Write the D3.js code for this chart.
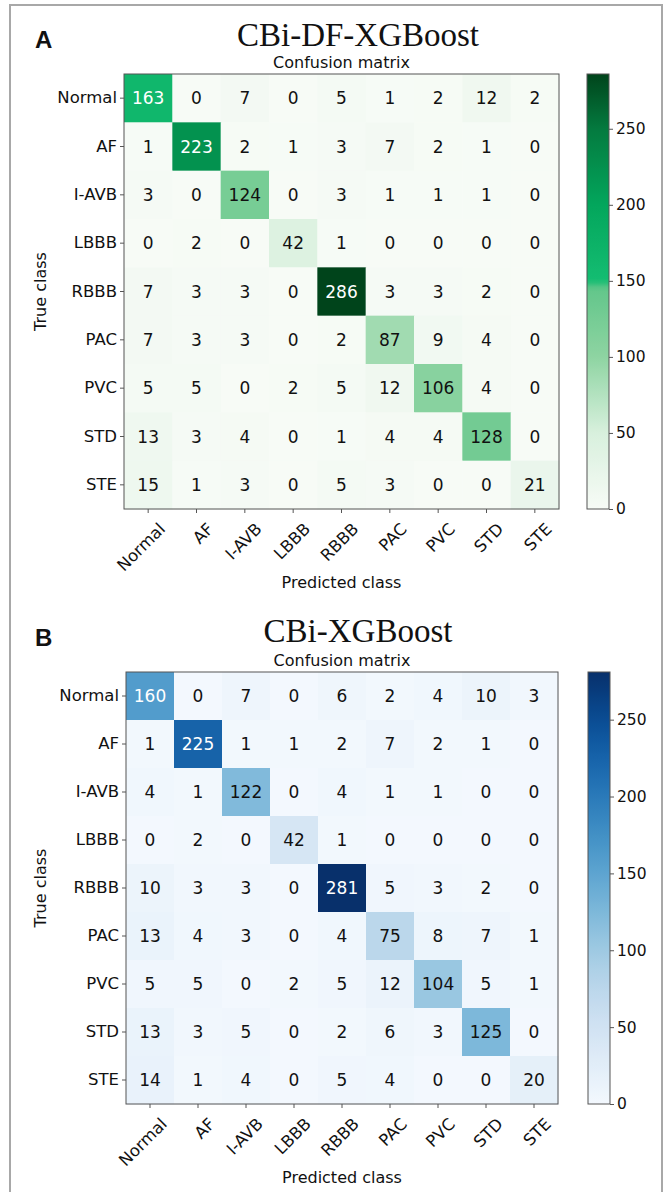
<!DOCTYPE html>
<html><head><meta charset="utf-8">
<script src="https://cdn.jsdelivr.net/npm/d3@7"></script>
<style>
html,body{margin:0;padding:0;background:#fff;}
svg{display:block;}
</style></head>
<body>
<svg id="chart" width="665" height="1192"></svg>
<script>
const classes = ["Normal","AF","I-AVB","LBBB","RBBB","PAC","PVC","STD","STE"];
const matrixA = [
  [163,0,7,0,5,1,2,12,2],
  [1,223,2,1,3,7,2,1,0],
  [3,0,124,0,3,1,1,1,0],
  [0,2,0,42,1,0,0,0,0],
  [7,3,3,0,286,3,3,2,0],
  [7,3,3,0,2,87,9,4,0],
  [5,5,0,2,5,12,106,4,0],
  [13,3,4,0,1,4,4,128,0],
  [15,1,3,0,5,3,0,0,21]
];
const matrixB = [
  [160,0,7,0,6,2,4,10,3],
  [1,225,1,1,2,7,2,1,0],
  [4,1,122,0,4,1,1,0,0],
  [0,2,0,42,1,0,0,0,0],
  [10,3,3,0,281,5,3,2,0],
  [13,4,3,0,4,75,8,7,1],
  [5,5,0,2,5,12,104,5,1],
  [13,3,5,0,2,6,3,125,0],
  [14,1,4,0,5,4,0,0,20]
];
const colorbarTicks = [0,50,100,150,200,250];
const titles = ["CBi-DF-XGBoost","CBi-XGBoost"];
const panelLetters = ["A","B"];
const subtitle = "Confusion matrix";
const xLabel = "Predicted class";
const yLabel = "True class";

const svg = d3.select("#chart");

// outer frame
svg.append("path")
  .attr("d","M10,1192 L10,5 L662,5 L662,1192")
  .attr("fill","none").attr("stroke","#a8a8a8").attr("stroke-width",2);

// custom green map as seen in the figure
const greenStops = [0,50,100,145,150,200,250,286];
const greenCols = ["#f7fbf6","#d8f0dd","#8ed4a2","#62c68a","#14bd72","#03a65c","#047a3f","#00441b"];

function drawPanel(cfg){
  const {mat, x0, y0, size, letter, title, letterY, titleY, subY, colorFn, vmax, cbX} = cfg;
  const g = svg.append("g");
  const x = d3.scaleBand().domain(classes).range([x0, x0+size]);
  const y = d3.scaleBand().domain(classes).range([y0, y0+size]);
  const thresh = vmax/2;

  g.append("text").attr("x",35).attr("y",letterY)
    .attr("font-family","Liberation Sans, Arial, sans-serif").attr("font-weight","bold")
    .attr("font-size",24).attr("fill","#111").text(letter);
  g.append("text").attr("x",358).attr("y",titleY).attr("text-anchor","middle")
    .attr("font-family","Liberation Serif, Times New Roman, serif")
    .attr("font-size",33).attr("fill","#111").text(title);
  g.append("text").attr("x",x0+size/2).attr("y",subY).attr("text-anchor","middle")
    .attr("font-family","DejaVu Sans, sans-serif").attr("font-size",16).attr("fill","#111").text(subtitle);

  const cells = [];
  mat.forEach((row,i)=>row.forEach((v,j)=>cells.push({r:classes[i],c:classes[j],v})));
  g.selectAll("rect.cell").data(cells).enter().append("rect")
    .attr("x",d=>x(d.c)).attr("y",d=>y(d.r))
    .attr("width",x.bandwidth()+0.5).attr("height",y.bandwidth()+0.5)
    .attr("fill",d=>colorFn(d.v));
  g.selectAll("text.val").data(cells).enter().append("text")
    .attr("x",d=>x(d.c)+x.bandwidth()/2).attr("y",d=>y(d.r)+y.bandwidth()/2)
    .attr("dy","0.36em").attr("text-anchor","middle")
    .attr("font-family","DejaVu Sans, sans-serif").attr("font-size",17)
    .attr("fill",d=>d.v>thresh?"#fff":"#111").text(d=>d.v);

  g.append("rect").attr("x",x0).attr("y",y0).attr("width",size).attr("height",size)
    .attr("fill","none").attr("stroke","#555").attr("stroke-width",1);

  // axes
  const yAxis = g.append("g").attr("transform",`translate(${x0},0)`)
    .call(d3.axisLeft(y).tickSize(4).tickPadding(3));
  yAxis.select(".domain").remove();
  yAxis.selectAll("line").attr("stroke","#555");
  yAxis.selectAll("text").attr("font-family","DejaVu Sans, sans-serif").attr("font-size",16.5).attr("fill","#111");

  const xAxis = g.append("g").attr("transform",`translate(0,${y0+size})`)
    .call(d3.axisBottom(x).tickSize(4).tickPadding(3));
  xAxis.select(".domain").remove();
  xAxis.selectAll("line").attr("stroke","#555");
  xAxis.selectAll("text").attr("font-family","DejaVu Sans, sans-serif").attr("font-size",16.5).attr("fill","#111")
    .attr("text-anchor","end").attr("dy","0.35em")
    .attr("transform","translate(9,12) rotate(-45)");

  g.append("text").attr("x",x0+size/2).attr("y",y0+size+79).attr("text-anchor","middle")
    .attr("font-family","DejaVu Sans, sans-serif").attr("font-size",16).attr("fill","#111").text(xLabel);
  g.append("text").attr("transform",`translate(46,${y0+size/2}) rotate(-90)`).attr("text-anchor","middle")
    .attr("font-family","DejaVu Sans, sans-serif").attr("font-size",16).attr("fill","#111").text(yLabel);

  // colorbar
  const cbW = 22;
  const cbScale = d3.scaleLinear().domain([0,vmax]).range([y0+size, y0]);
  const gid = "grad"+letter;
  const grad = svg.append("defs").append("linearGradient").attr("id",gid)
    .attr("x1",0).attr("y1",1).attr("x2",0).attr("y2",0);
  d3.range(0,101).forEach(k=>{
    grad.append("stop").attr("offset",k+"%").attr("stop-color",colorFn(vmax*k/100));
  });
  g.append("rect").attr("x",cbX).attr("y",y0).attr("width",cbW).attr("height",size)
    .attr("fill",`url(#${gid})`).attr("stroke","#555").attr("stroke-width",1);
  const cAxis = g.append("g").attr("transform",`translate(${cbX+cbW},0)`)
    .call(d3.axisRight(cbScale).tickValues(colorbarTicks).tickSize(4).tickPadding(3));
  cAxis.select(".domain").remove();
  cAxis.selectAll("line").attr("stroke","#555");
  cAxis.selectAll("text").attr("font-family","DejaVu Sans, sans-serif").attr("font-size",15.5).attr("fill","#111");
}

const maxA = d3.max(matrixA.flat());
const greenScale = d3.scaleLinear().domain(greenStops).range(greenCols).interpolate(d3.interpolateRgb).clamp(true);
drawPanel({mat:matrixA, x0:124, y0:74, size:435, letter:panelLetters[0], title:titles[0],
  letterY:48, titleY:46, subY:68, colorFn:greenScale, vmax:maxA, cbX:587});

const maxB = d3.max(matrixB.flat());
const blueScale = v => d3.interpolateBlues(0.02 + 0.98*v/maxB);
drawPanel({mat:matrixB, x0:126, y0:672, size:432, letter:panelLetters[1], title:titles[1],
  letterY:646, titleY:642, subY:666, colorFn:blueScale, vmax:maxB, cbX:588});
</script>
</body></html>
